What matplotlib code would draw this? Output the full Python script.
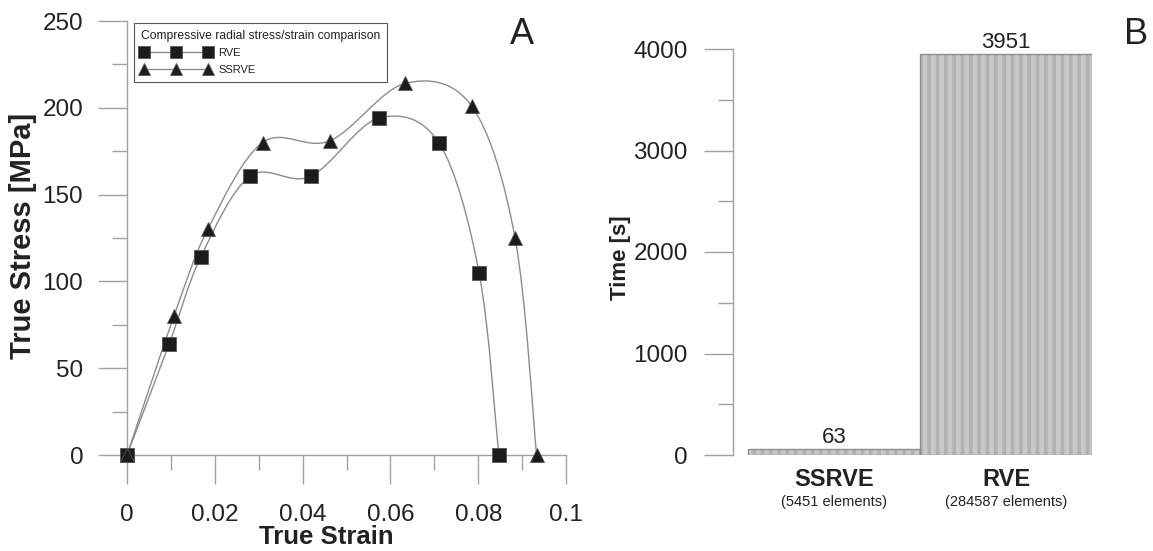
import numpy as np
import matplotlib
matplotlib.use("Agg")
import matplotlib.pyplot as plt
from matplotlib.path import Path
from matplotlib.patches import PathPatch
from matplotlib.lines import Line2D

plt.rcParams['font.family'] = ['Liberation Sans', 'DejaVu Sans']
plt.rcParams['hatch.linewidth'] = 2.6

# ---------------- data ----------------
rve_strain = [0.0, 0.0096, 0.0168, 0.0280, 0.0418, 0.0573, 0.0710, 0.0802, 0.0847]
rve_stress = [0.0, 64.0, 114.0, 160.5, 160.5, 194.0, 180.0, 105.0, 0.0]
ssrve_strain = [0.0, 0.0107, 0.0184, 0.0309, 0.0462, 0.0633, 0.0785, 0.0884, 0.0933]
ssrve_stress = [0.0, 80.0, 130.0, 180.0, 181.0, 214.0, 201.0, 125.0, 0.0]

legend_title = "Compressive radial stress/strain comparison"
series_names = ["RVE", "SSRVE"]

bar_names = ["SSRVE", "RVE"]
bar_elements = ["(5451 elements)", "(284587 elements)"]
bar_times = [63, 3951]

x_ticks = [0, 0.02, 0.04, 0.06, 0.08, 0.1]
x_tick_labels = ["0", "0.02", "0.04", "0.06", "0.08", "0.1"]
y_ticks = [0, 50, 100, 150, 200, 250]
t_ticks = [0, 1000, 2000, 3000, 4000]

# ---------------- style ----------------
W, H = 1153, 551
DPI = 100
axis_col = '#a2a2a6'
text_col = '#222222'
curve_col = '#8c8c8c'
mark_col = '#1c1c1c'
tick_fs = 17.5


def smooth_path(xs, ys):
    """Catmull-Rom curve through the points as cubic Bezier path."""
    p = np.column_stack([xs, ys]).astype(float)
    ext = np.vstack([p[0], p, p[-1]])
    verts = [p[0]]
    codes = [Path.MOVETO]
    for i in range(1, len(ext) - 2):
        p0, p1, p2, p3 = ext[i - 1], ext[i], ext[i + 1], ext[i + 2]
        verts += [p1 + (p2 - p0) / 6.0, p2 - (p3 - p1) / 6.0, p2]
        codes += [Path.CURVE4] * 3
    return Path(verts, codes)


fig = plt.figure(figsize=(W / DPI, H / DPI), dpi=DPI)

def px(x0, y0, x1, y1):
    return [x0 / W, 1 - y1 / H, (x1 - x0) / W, (y1 - y0) / H]

# ---------------- panel A ----------------
ax = fig.add_axes(px(127, 21, 566, 455))
ax.set_xlim(0, 0.1)
ax.set_ylim(0, 250)
for s in ['top', 'right']:
    ax.spines[s].set_visible(False)
for s in ['left', 'bottom']:
    ax.spines[s].set_color(axis_col)
    ax.spines[s].set_linewidth(1.0)

for xs, ys, m, name in [(rve_strain, rve_stress, 's', series_names[0]),
                        (ssrve_strain, ssrve_stress, '^', series_names[1])]:
    ax.add_patch(PathPatch(smooth_path(xs, ys), facecolor='none',
                           edgecolor=curve_col, lw=1.0, zorder=2))
    ax.plot(xs, ys, linestyle='none', marker=m, markersize=10.6,
            color=mark_col, markeredgecolor='#555555', markeredgewidth=0.6,
            clip_on=False, zorder=3)

ax.set_xticks(x_ticks)
ax.set_xticklabels(x_tick_labels)
ax.set_xticks(np.arange(0.01, 0.1, 0.02), minor=True)
ax.set_yticks(y_ticks)
ax.set_yticks(np.arange(25, 250, 50), minor=True)
ax.tick_params(axis='both', which='both', direction='out', color=axis_col,
               width=1.0, labelsize=tick_fs, labelcolor=text_col)
ax.tick_params(axis='x', which='major', length=21, pad=14)
ax.tick_params(axis='x', which='minor', length=10.5)
ax.tick_params(axis='y', which='major', length=21, pad=10.5)
ax.tick_params(axis='y', which='minor', length=10.5)

ax.set_xlabel("True Strain", fontsize=18.5, fontweight='bold', color=text_col)
ax.xaxis.set_label_coords(0.4536, -0.189)
ax.xaxis.label.set_va('center')
ax.set_ylabel("True Stress [MPa]", fontsize=21, fontweight='bold',
              color=text_col, va='center')
ax.yaxis.set_label_coords(-0.237, 0.505)

handles = [Line2D([], [], color=curve_col, lw=1.0, marker='s', markersize=10.6,
                  markerfacecolor=mark_col, markeredgecolor='#555555', markeredgewidth=0.6),
           Line2D([], [], color=curve_col, lw=1.0, marker='^', markersize=10.6,
                  markerfacecolor=mark_col, markeredgecolor='#555555', markeredgewidth=0.6)]
leg = ax.legend(handles, series_names, title=legend_title, title_fontsize=8.7,
                fontsize=8, loc='upper left', bbox_to_anchor=(134 / W, 1 - 23 / H),
                bbox_transform=fig.transFigure, borderaxespad=0, numpoints=3,
                handlelength=6.4, handletextpad=0.6, markerscale=0.85,
                fancybox=False, framealpha=1, edgecolor='#555555',
                borderpad=0.6, labelspacing=0.6, alignment='left')
leg.get_frame().set_linewidth(0.8)
for t in leg.get_texts():
    t.set_color(text_col)
leg.get_title().set_color(text_col)

fig.text(522 / W, 1 - 35 / H, "A", fontsize=26, ha='center', va='center', color=text_col)

# ---------------- panel B ----------------
bx = fig.add_axes(px(733, 49, 1092, 455))
xpos = np.arange(len(bar_names))
bx.set_xlim(-0.5 - 15 / 172.0, 1.5)
bx.set_ylim(0, 4000)
for s in ['top', 'right', 'bottom']:
    bx.spines[s].set_visible(False)
bx.spines['left'].set_color(axis_col)
bx.spines['left'].set_linewidth(1.0)

bx.bar(xpos, bar_times, width=1.0, color='#c8c8ca', edgecolor='#b2b2b5',
       linewidth=0, hatch='||', zorder=2)
bx.bar(xpos, bar_times, width=1.0, color='none', edgecolor='#8e8e92',
       linewidth=1.0, zorder=3)
for xi, v in zip(xpos, bar_times):
    bx.annotate(str(v), xy=(xi, v), xytext=(0, 4.3), textcoords='offset points',
                ha='center', va='baseline', fontsize=16, color=text_col,
                annotation_clip=False)

bx.set_yticks(t_ticks)
bx.set_yticks(np.arange(500, 4000, 1000), minor=True)
bx.tick_params(axis='y', which='both', direction='out', color=axis_col, width=1.0,
               labelsize=tick_fs, labelcolor=text_col)
bx.tick_params(axis='y', which='major', length=21, pad=11.5)
bx.tick_params(axis='y', which='minor', length=10.5)
bx.set_xticks(xpos)
bx.set_xticklabels(bar_names, fontsize=17, fontweight='bold', color=text_col)
bx.tick_params(axis='x', length=0, pad=9.5)
for xi, e in zip(xpos, bar_elements):
    bx.annotate(e, xy=(xi, 0), xycoords=('data', 'axes fraction'),
                xytext=(0, -33.8), textcoords='offset points', ha='center',
                va='center', fontsize=10.5, color=text_col, annotation_clip=False)

bx.set_ylabel("Time [s]", fontsize=16, fontweight='bold', color=text_col, va='center')
bx.yaxis.set_label_coords(-0.312, 0.485)

fig.text(1136 / W, 1 - 35 / H, "B", fontsize=26, ha='center', va='center', color=text_col)

fig.savefig("out.png", dpi=DPI)
